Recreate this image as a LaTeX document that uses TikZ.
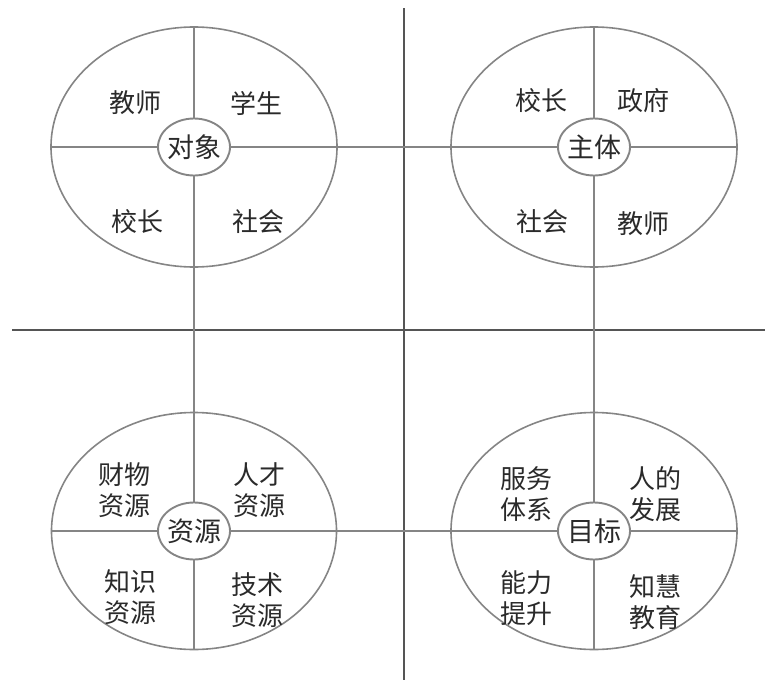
\documentclass[tikz,border=0pt]{standalone}
\usepackage{fontspec}
\newfontfamily\cjk{Noto Sans CJK SC}
\usetikzlibrary{shapes.geometric}
\definecolor{linegray}{HTML}{858585}
\definecolor{crossgray}{HTML}{555555}
\definecolor{txtgray}{HTML}{2A2A2A}
\tikzset{
  bigell/.style={ellipse, draw=linegray, line width=1.6pt, inner sep=0pt},
  smallell/.style={ellipse, draw=linegray, line width=1.9pt, fill=white, inner sep=0pt,
    minimum width=72pt, minimum height=57pt},
  conn/.style={draw=linegray, line width=1.7pt},
  crossline/.style={draw=crossgray, line width=2.6pt},
  lab/.style={text=txtgray, font=\cjk\fontsize{26}{31}\selectfont, align=center, inner sep=0pt},
  clab/.style={lab, font=\cjk\fontsize{27}{31}\selectfont},
}
\begin{document}
\begin{tikzpicture}[x=1pt,y=-1pt]
\useasboundingbox (0,0) rectangle (765,680);
% big cross
\coordinate (ctop) at (404,8);
\coordinate (cbot) at (404,680);
\coordinate (cleft) at (12,330);
\coordinate (cright) at (765,330);
\draw[crossline] (ctop) -- (cbot);
\draw[crossline] (cleft) -- (cright);
% big ellipses
\node[bigell, minimum width=286pt, minimum height=240pt] (A) at (194,147) {};
\node[bigell, minimum width=286pt, minimum height=240pt] (B) at (594,147) {};
\node[bigell, minimum width=285pt, minimum height=237pt] (C) at (194,531) {};
\node[bigell, minimum width=286pt, minimum height=237pt] (D) at (594,531) {};
% connectors
\draw[conn] (A.west) -- (B.east);
\draw[conn] (C.west) -- (D.east);
\draw[conn] (A.north) -- (C.south);
\draw[conn] (B.north) -- (D.south);
% center ellipses
\node[smallell] (a) at (A) {};
\node[smallell] (b) at (B) {};
\node[smallell] (c) at (C) {};
\node[smallell] (d) at (D) {};
\node[clab] (at) at (a) {对象};
\node[clab] (bt) at (b) {主体};
\node[clab] (ct) at (c) {资源};
\node[clab] (dt) at (d) {目标};
% TL
\node[lab] (a1) at (135,103) {教师};
\node[lab] (a2) at (256,103) {学生};
\node[lab] (a3) at (137,222) {校长};
\node[lab] (a4) at (258,222) {社会};
% TR
\node[lab] (b1) at (541,101) {校长};
\node[lab] (b2) at (643,101) {政府};
\node[lab] (b3) at (542,222) {社会};
\node[lab] (b4) at (643,224) {教师};
% BL
\node[lab] (c1) at (124,490) {财物\\资源};
\node[lab] (c2) at (259,490) {人才\\资源};
\node[lab] (c3) at (130,597) {知识\\资源};
\node[lab] (c4) at (257,600) {技术\\资源};
% BR
\node[lab] (d1) at (526,494) {服务\\体系};
\node[lab] (d2) at (655,494) {人的\\发展};
\node[lab] (d3) at (526,598) {能力\\提升};
\node[lab] (d4) at (655,602) {知慧\\教育};
\end{tikzpicture}
\end{document}
